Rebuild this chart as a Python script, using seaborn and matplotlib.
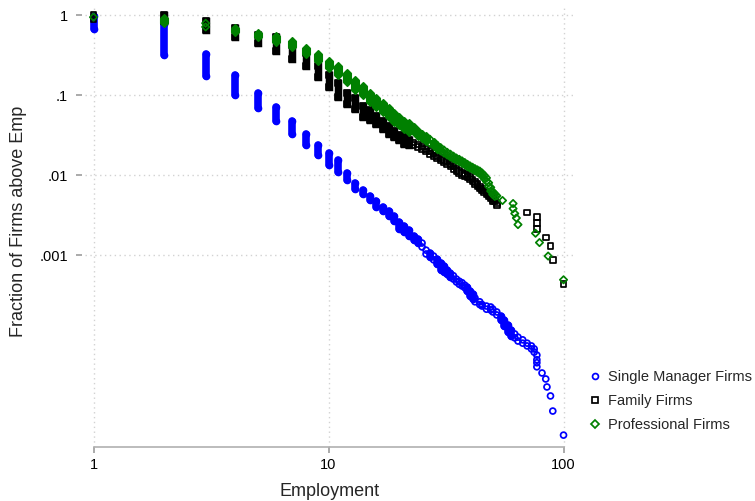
import matplotlib
matplotlib.use("Agg")
import matplotlib.pyplot as plt
from matplotlib.lines import Line2D
from matplotlib.ticker import FixedLocator, FixedFormatter, NullLocator
import numpy as np
import pandas as pd
import seaborn as sns

# Share of firms at or above each employment level. Each employment value
# carries the top and bottom of the range of firm fractions observed there
# (top == bottom for a single firm).
single_emp = [1, 2, 3, 4, 5, 6, 7, 8, 9, 10, 11, 12, 13, 14, 15, 16, 17, 18, 19, 20,
              21, 22, 23, 24, 25, 26, 27, 28, 29, 30, 31, 32, 33, 34, 35, 36, 37, 38, 39, 40,
              41, 42, 44, 45, 47, 49, 50, 52, 54, 56, 58, 60, 62, 64, 67, 70, 73, 75,
              77, 77, 77, 77, 81, 84, 85, 88, 90, 100]
single_top = [0.96, 0.77, 0.33, 0.18, 0.107, 0.070, 0.048, 0.033, 0.0234, 0.0186,
              0.0154, 0.0106, 0.0079, 0.0065, 0.0055, 0.0047, 0.0040, 0.00355, 0.0031, 0.00262,
              0.0023, 0.00205, 0.00175, 0.00158, 0.00141, 0.00115, 0.00106, 0.00097, 0.00089, 0.00079,
              0.00073, 0.00065, 0.00060, 0.00055, 0.00050, 0.00047, 0.00045, 0.00042, 0.00040, 0.00035,
              0.00033, 0.00029, 0.00026, 0.00024, 0.00023, 0.000224, 0.000211, 0.000194, 0.000173,
              0.000154, 0.000133, 0.000115, 0.000103, 0.000094, 0.000087, 0.000079, 0.000073,
              0.000067, 5.6e-5, 4.9e-5, 4.5e-5, 4.0e-5,
              3.35e-5, 2.82e-5, 2.24e-5, 1.73e-5, 1.12e-5, 5.6e-6]
single_bot = [0.66, 0.32, 0.175, 0.101, 0.068, 0.048, 0.033, 0.024, 0.018, 0.0135,
              0.0109, 0.0087, 0.0067, 0.0058, 0.0049, 0.0040, 0.0035, 0.0031, 0.00266, 0.00214,
              0.00194, 0.00173, 0.00156, 0.00141, 0.00126, 0.00103, 0.00094, 0.00087, 0.00077, 0.00065,
              0.00061, 0.00058, 0.00053, 0.00050, 0.00046, 0.00043, 0.00041, 0.00039, 0.00035, 0.00031,
              0.00028, 0.00026, 0.00024, 0.00023, 0.00021, 0.000205, 0.000194, 0.000178, 0.000154,
              0.000130, 0.000109, 0.000097, 0.000092, 0.000084, 0.000079, 0.000073, 0.000067,
              0.000061, 5.6e-5, 4.9e-5, 4.5e-5, 4.0e-5,
              3.35e-5, 2.82e-5, 2.24e-5, 1.73e-5, 1.12e-5, 5.6e-6]

family_emp = [1, 2, 3, 4, 5, 6, 7, 8, 9, 10, 11, 12, 13, 14, 15, 16, 17, 18, 19, 20,
              21, 22, 23, 24, 25, 26, 27, 28, 29, 30, 31, 32, 33, 34, 35, 36, 37, 38, 39, 40,
              41, 42, 43, 44, 45, 46, 47, 48, 49, 50, 51, 52, 70, 77, 77, 77, 84, 88, 90, 100]
family_top = [1.0, 0.99, 0.84, 0.69, 0.56, 0.53, 0.42, 0.335, 0.23, 0.178,
              0.141, 0.106, 0.092, 0.073, 0.065, 0.055, 0.047, 0.041, 0.0355, 0.0316,
              0.031, 0.0274, 0.0255, 0.0240, 0.0228, 0.0212, 0.0198, 0.0187, 0.0172, 0.0164,
              0.0155, 0.0147, 0.0138, 0.0128, 0.0118, 0.0112, 0.0106, 0.0102, 0.0099, 0.0095,
              0.0088, 0.0082, 0.0077, 0.0072, 0.0068, 0.0064, 0.0061, 0.0058, 0.0055, 0.0050,
              0.0047, 0.0044, 0.0034, 0.00296, 0.00249, 0.00213, 0.00166, 0.0013, 0.00087, 0.00043]
family_bot = [0.90, 0.83, 0.65, 0.53, 0.45, 0.355, 0.28, 0.23, 0.168, 0.126,
              0.095, 0.077, 0.067, 0.053, 0.049, 0.043, 0.038, 0.033, 0.030, 0.0274,
              0.0245, 0.0237, 0.0235, 0.0222, 0.0210, 0.0196, 0.0184, 0.0172, 0.0162, 0.0154,
              0.0145, 0.0138, 0.0130, 0.0120, 0.0112, 0.0106, 0.0101, 0.0098, 0.0095, 0.0090,
              0.0083, 0.0078, 0.0073, 0.0068, 0.0064, 0.0061, 0.0058, 0.0055, 0.0051, 0.0047,
              0.0047, 0.0042, 0.0034, 0.00296, 0.00249, 0.00213, 0.00166, 0.0013, 0.00087, 0.00043]

prof_emp = [1, 2, 3, 4, 5, 6, 7, 8, 9, 10, 11, 12, 13, 14, 15, 16, 17, 18, 19, 20,
            21, 22, 23, 24, 25, 26, 27, 28, 29, 30, 31, 32, 33, 34, 35, 36, 37, 38, 39, 40,
            41, 42, 43, 44, 45, 46, 47, 48, 49, 50, 51, 52, 55, 61, 61, 62, 63, 64,
            76, 79, 86, 100]
prof_top = [0.94, 0.92, 0.79, 0.69, 0.60, 0.55, 0.47, 0.39, 0.325, 0.27,
            0.23, 0.188, 0.154, 0.13, 0.106, 0.092, 0.08, 0.069, 0.06, 0.053,
            0.047, 0.045, 0.040, 0.036, 0.033, 0.031, 0.028, 0.026, 0.024, 0.022,
            0.0205, 0.0192, 0.0182, 0.0172, 0.0163, 0.0157, 0.0150, 0.0143, 0.0136, 0.0130,
            0.0125, 0.0120, 0.0116, 0.0112, 0.0106, 0.0099, 0.0092, 0.0080, 0.0070, 0.0062,
            0.0058, 0.0055, 0.0048, 0.0044, 0.0038, 0.0033, 0.0029, 0.0024,
            0.00187, 0.00143, 0.00097, 0.00049]
prof_bot = [0.94, 0.80, 0.71, 0.61, 0.53, 0.46, 0.40, 0.325, 0.266, 0.218,
            0.178, 0.145, 0.115, 0.10, 0.082, 0.071, 0.061, 0.053, 0.046, 0.042,
            0.038, 0.0345, 0.034, 0.031, 0.029, 0.027, 0.025, 0.023, 0.021, 0.020,
            0.0188, 0.0178, 0.0168, 0.0160, 0.0153, 0.0147, 0.0140, 0.0134, 0.0127, 0.0122,
            0.0118, 0.0113, 0.0108, 0.0104, 0.0097, 0.0090, 0.0083, 0.0072, 0.0063, 0.0057,
            0.0054, 0.0055, 0.0048, 0.0044, 0.0038, 0.0033, 0.0029, 0.0024,
            0.00187, 0.00143, 0.00097, 0.00049]

series_labels = ["Single Manager Firms", "Family Firms", "Professional Firms"]
x_ticks = [1, 10, 100]
x_tick_labels = ["1", "10", "100"]
y_ticks = [1, 0.1, 0.01, 0.001]
y_tick_labels = ["1", ".1", ".01", ".001"]

sns.set_style("white")
plt.rcParams["font.family"] = ["Liberation Sans", "DejaVu Sans"]

marker_styles = [
    dict(color="#0000ff", marker="o", s=18, lw=1.25, cap="round"),
    dict(color="#000000", marker="s", s=17, lw=1.25, cap="projecting"),
    dict(color="#008000", marker="D", s=14, lw=1.25, cap="butt"),
]
series_data = [
    (single_emp, single_top, single_bot),
    (family_emp, family_top, family_bot),
    (prof_emp, prof_top, prof_bot),
]

fig = plt.figure(figsize=(7.55, 5.01), dpi=100)
ax = fig.add_axes([0.1126, 0.1078, 0.6490, 0.8822])

for label, (emp, top, bot), st in zip(series_labels, series_data, marker_styles):
    df = pd.DataFrame({"emp": emp, "top": top, "bot": bot, "series": label})
    # Many firms at one employment level pile up into a solid stack
    stacked = (df["top"] / df["bot"]) >= 1.12
    tall = df[stacked]
    short = df[~stacked]

    if st["marker"] == "D":
        width = np.sqrt(2 * st["s"]) + st["lw"]
    else:
        width = np.sqrt(st["s"]) + st["lw"]

    if len(tall):
        ax.vlines(tall["emp"], tall["bot"], tall["top"], colors=st["color"],
                  linewidth=width, capstyle=st["cap"], zorder=2)
        ends = pd.concat([tall[["emp", "top"]].rename(columns={"top": "frac"}),
                          tall[["emp", "bot"]].rename(columns={"bot": "frac"})])
        sns.scatterplot(data=ends, x="emp", y="frac", ax=ax, marker=st["marker"],
                        s=st["s"], color=st["color"], facecolor=st["color"],
                        edgecolor=st["color"], linewidth=st["lw"], legend=False,
                        zorder=2)

    pts = pd.concat([short[["emp", "top"]].rename(columns={"top": "frac"}),
                     short[["emp", "bot"]].rename(columns={"bot": "frac"})])
    pts = pts.drop_duplicates()
    sns.scatterplot(data=pts, x="emp", y="frac", ax=ax, marker=st["marker"],
                    s=st["s"], color=st["color"], facecolor="none",
                    edgecolor=st["color"], linewidth=st["lw"], legend=False,
                    zorder=2)

ax.set_xscale("log")
ax.set_yscale("log")
ax.set_xlim(0.92, 111.9)
ax.set_ylim(3.98e-6, 1.334)

ax.xaxis.set_major_locator(FixedLocator(x_ticks))
ax.xaxis.set_major_formatter(FixedFormatter(x_tick_labels))
ax.yaxis.set_major_locator(FixedLocator(y_ticks))
ax.yaxis.set_major_formatter(FixedFormatter(y_tick_labels))
ax.xaxis.set_minor_locator(NullLocator())
ax.yaxis.set_minor_locator(NullLocator())

axis_grey = "#9c9c9c"
for side in ["top", "right"]:
    ax.spines[side].set_visible(False)
ax.spines["left"].set_visible(False)
ax.spines["left"].set_position(("outward", 2.2))
ax.spines["bottom"].set_color("#b0b0b0")
ax.spines["bottom"].set_linewidth(1.2)
ax.spines["bottom"].set_bounds(1, 100)

ax.tick_params(axis="both", which="major", direction="out", length=4,
               width=1.2, color=axis_grey, labelsize=10.5, labelcolor="black")
ax.tick_params(axis="x", pad=4, bottom=True)
ax.tick_params(axis="y", pad=6, left=True)

ax.grid(True, which="major", color="#d2d2d2", linestyle=(0, (1, 2.5)), linewidth=1.0)
ax.set_axisbelow(True)

ax.set_xlabel("Employment", fontsize=13)
ax.set_ylabel("Fraction of Firms above Emp", fontsize=13)
ax.xaxis.set_label_coords(0.5, -0.082)
ax.yaxis.set_label_coords(-0.118, 0.51)

handles = [Line2D([], [], linestyle="none", marker=st["marker"], markersize=np.sqrt(st["s"]),
                  markerfacecolor="none", markeredgecolor=st["color"],
                  markeredgewidth=st["lw"]) for st in marker_styles]
fig.legend(handles, series_labels, loc="center left", bbox_to_anchor=(0.782, 0.1996),
           frameon=False, fontsize=10.5, handlelength=0.6, handletextpad=0.6,
           labelspacing=0.66, borderpad=0, borderaxespad=0)

fig.savefig("out.png", dpi=100)
